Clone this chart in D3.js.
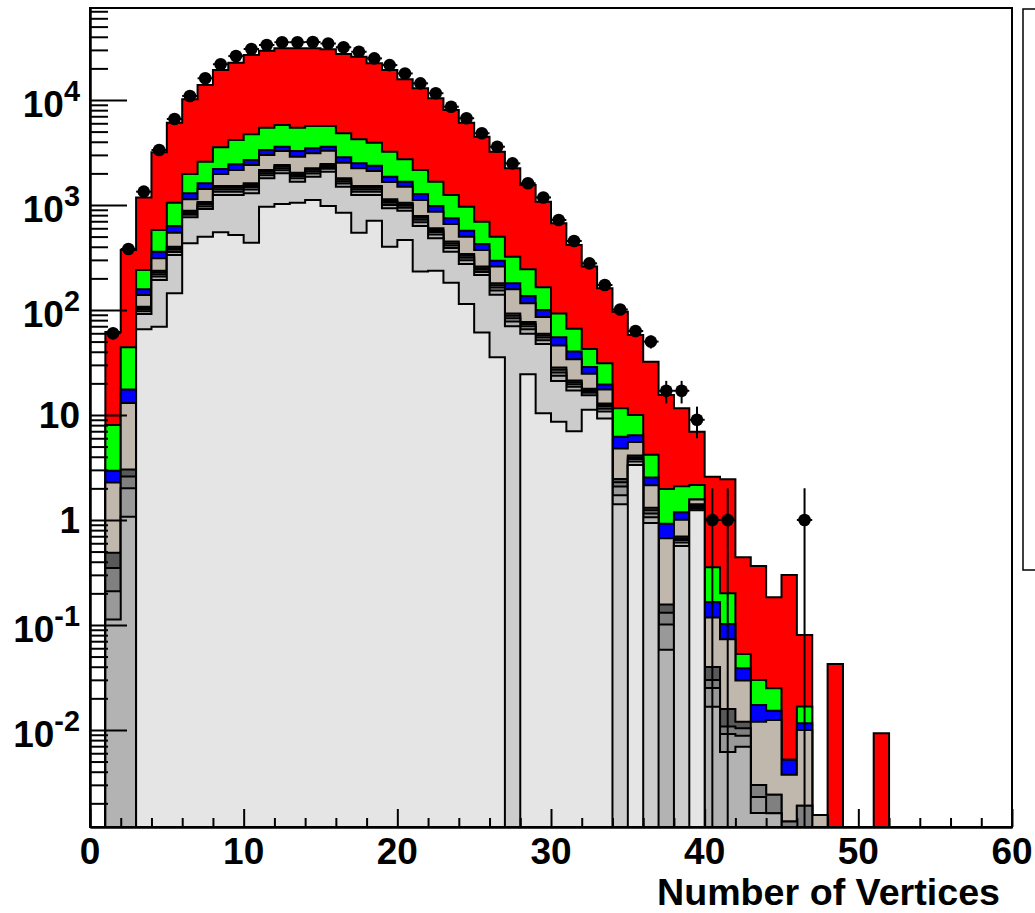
<!DOCTYPE html>
<html><head><meta charset="utf-8">
<script src="https://cdn.jsdelivr.net/npm/d3@7"></script>
<style>
body{margin:0;background:#fff}
svg{display:block}
text{font-family:"Liberation Sans",Arial,Helvetica,sans-serif;font-weight:bold;fill:#000}
</style></head>
<body><svg id="c" width="1035" height="913"></svg>
<script>
// ---- data: stacked components per bin (bin i = [i, i+1) vertices) ----
const lightGrey = [0,0,0,65.5,69.3,144,432,499,550,518,438,964,1022,1052,1116,977,845,545,708,401,464,232,237,182,114,61,35.5,0,24.4,10.4,8.63,7.01,11.2,9.24,0,3.34,0,0,0,1.24];
const midGrey   = [0,0,0,26.1,124,190,332,417,695,727,854,832,982,615,744,1099,649,700,537,529,419,399,245,177,160,154,104,69.8,34.9,37.1,12.4,10.1,4.2,1.53,1.41,0,0.934,0,0.564];
const grey16    = [0,0.113,1.07,5.6,15,23,42,54,95,95,111,125,140,128,132,133,106,95,95,71,59,54,41,31,23,15,14,8,6.2,4.1,2.6,1.5,0.84,0.72,0.305,0.27,0.13,0.058,0.046,0.059,0.0166,0.00617,0.0069,0.00162,0.00161,0.0007];
const grey15    = [0,0.096,0.93,4.0,11,17,30,38,68,68,80,90,100,91,94,95,75,68,68,51,42,38,30,22,17,11,10,5.7,4.4,3,1.8,1.05,0.6,0.52,0.37,0.19,0.09,0.043,0.033,0.042,0.0085,0.003,0.0019,0.00068];
const grey14    = [0,0.14,0.6,3.2,9,14,24,31,55,55,64,72,80,73,76,76,61,55,55,41,34,31,24,18,14,9,8.3,4.6,3.5,2.4,1.5,0.85,0.48,0.42,0.2,0.16,0.08,0.030,0.026,0.034,0.0048,0.0016,0.0016,0.00069,0.0008,0.00064,0.0019];
const grey12    = [0,0.139,0.42,3.1,8.6,13,23,30,54,54,63,71,80,73,75,75,60,54,54,40,34,31,23,18,13,9,8.3,4.5,3.5,2.3,1.4,0.8,0.48,0.41,0.17,0.15,0.07,0.026,0.026,0.033,0.0099,0.0051,0.0016];
const tan       = [0,1.78,9.97,31.5,73.9,144,250,351,456,637,794,840,864,852,868,834,733,720,591,523,442,331,263,211,158,114,79,64.8,38.7,26.6,17.5,12.7,6.9,4.62,2.33,1.42,0.84,0.512,0.312,0.162,0.078,0.0573,0.0175,0.009,0.01,0.0024,0.0081,0.00155];
const blue      = [0,0.68,4.48,18.4,48.4,86,159,190,230,288,279,345,321,384,362,300,318,258,260,204,173,157,114,88,70,52,36,22.2,20.3,13.9,9.3,6.3,4.0,2.04,1.41,0.89,0.40,0.251,0.177,0,0.048,0.029,0.0092,0.0053,0.0028,0.00145,0.0016];
const green     = [0,5.06,26.7,83,219,421,681,974,1343,1717,2030,2109,2192,2180,2186,2064,1972,1732,1552,1360,1056,881,690,498,395,268,204,142,108,64.6,37.5,26.1,13.8,11.6,5.41,3.6,1.64,1.05,0.91,0.587,0.188,0.098,0.0143,0.0126,0.0097,0,0.0051];
const red       = [0,53.6,328,935,2599,5029,8187,11316,15764,18491,22127,24062,25269,25602,25397,24747,22601,21603,18470,16090,13017,10766,8713,6790,5117,3774,2721,1915,1306,911,577,350,216.5,129.9,84.8,47.8,28.0,13.5,9.5,4.78,2.23,2.24,0.388,0.335,0.159,0.294,0.0636,0,0.0425,0,0,0.0093];
const dataCounts = [0,60,381,1340,3340,6590,10920,16100,21900,26200,30600,33400,35500,35500,35700,34500,31800,28800,24900,21500,17900,14400,11600,8630,6700,4820,3590,2490,1610,1180,720,454,278,173,101,63,50,17,17,9,1,1,0,0,0,0,1];

const xTickLabels = [0,10,20,30,40,50,60];
const yTickExps = [-2,-1,0,1,2,3,4];
const xTitle = "Number of Vertices";

// ---- layout ----
const X0=90, X1=1012, Y0=8, Y1=827, NB=60;
const x = d3.scaleLinear().domain([0,60]).range([X0,X1]);
const y = d3.scaleLog().domain([1.19e-3, 7.52e4]).range([Y1,Y0]);
const svg = d3.select('#c');
const YB = Y1 + 20;

svg.append('defs').append('clipPath').attr('id','clip')
  .append('rect').attr('x',X0).attr('y',Y0).attr('width',X1-X0).attr('height',Y1-Y0);

const layers = [
  {v:lightGrey, c:'#e5e5e5'},
  {v:midGrey,   c:'#cccccc'},
  {v:grey16,    c:'#b3b3b3'},
  {v:grey15,    c:'#999999'},
  {v:grey14,    c:'#808080'},
  {v:grey12,    c:'#595959'},
  {v:tan,       c:'#c1b8ad'},
  {v:blue,      c:'#0000ff'},
  {v:green,     c:'#00ff00'},
  {v:red,       c:'#ff0000'}
];
let run = d3.range(NB).map(()=>0);
const cums = layers.map(l => { run = run.map((s,i)=> s + (l.v[i]||0)); return run.slice(); });

const area = d3.area()
  .x(d=>x(d.b))
  .y0(YB)
  .y1(d=> d.v>0 ? y(d.v) : YB)
  .curve(d3.curveStepAfter);

const plot = svg.append('g').attr('clip-path','url(#clip)');
for (let k=layers.length-1;k>=0;k--){
  const pts = d3.range(NB).map(i=>({b:i, v:cums[k][i]}));
  pts.push({b:NB, v:cums[k][NB-1]});
  plot.append('path').attr('d', area(pts))
    .attr('fill', layers[k].c).attr('stroke','#000').attr('stroke-width',2)
    .attr('stroke-linejoin','miter');
}

// ---- data points ----
const pts = dataCounts.map((n,i)=>({i,n})).filter(d=>d.n>0);
const dg = plot.append('g');
pts.forEach(d=>{
  const e = Math.sqrt(d.n);
  const yc = y(d.n);
  const yHi = y(d.n+e);
  const yLo = (d.n-e)>0 ? y(d.n-e) : YB;
  dg.append('line').attr('x1',x(d.i+0.5)).attr('x2',x(d.i+0.5)).attr('y1',yHi).attr('y2',yLo)
    .attr('stroke','#000').attr('stroke-width',2);
  dg.append('line').attr('x1',x(d.i)).attr('x2',x(d.i+1)).attr('y1',yc).attr('y2',yc)
    .attr('stroke','#000').attr('stroke-width',2);
  dg.append('circle').attr('cx',x(d.i+0.5)).attr('cy',yc).attr('r',6.3).attr('fill','#000');
});

// ---- frame ----
svg.append('rect').attr('x',X0).attr('y',Y0).attr('width',X1-X0).attr('height',Y1-Y0)
  .attr('fill','none').attr('stroke','#000').attr('stroke-width',2);

// ---- axes ----
const yMajor = yTickExps.map(e=>Math.pow(10,e));
const yMinor = [];
for (let e=-3;e<=4;e++) for (let m=2;m<=9;m++){ const v=m*Math.pow(10,e); if (v>y.domain()[0] && v<y.domain()[1]) yMinor.push(v); }
const styleAxis = g => { g.selectAll('line').attr('stroke','#000').attr('stroke-width',2); g.select('.domain').attr('stroke','#000').attr('stroke-width',2); g.selectAll('text').remove(); };
svg.append('g').attr('transform',`translate(${X0},0)`)
  .call(d3.axisLeft(y).tickValues(yMajor).tickSize(-37).tickSizeOuter(0).tickFormat(''))
  .call(styleAxis);
svg.append('g').attr('transform',`translate(${X0},0)`)
  .call(d3.axisLeft(y).tickValues(yMinor).tickSize(-18).tickSizeOuter(0).tickFormat(''))
  .call(styleAxis);
const xMinor = d3.range(0,61,2).filter(v=>v%10!==0);
svg.append('g').attr('transform',`translate(0,${Y1})`)
  .call(d3.axisBottom(x).tickValues(xTickLabels).tickSize(-18).tickSizeOuter(0).tickFormat(''))
  .call(styleAxis);
svg.append('g').attr('transform',`translate(0,${Y1})`)
  .call(d3.axisBottom(x).tickValues(xMinor).tickSize(-9).tickSizeOuter(0).tickFormat(''))
  .call(styleAxis);

// ---- labels ----
const FS = 37;
xTickLabels.forEach(v=>{
  svg.append('text').attr('x',x(v)).attr('y',Y1+37).attr('text-anchor','middle')
    .attr('font-size',FS).text(v);
});
yTickExps.forEach(e=>{
  const yy = y(Math.pow(10,e));
  const t = svg.append('text').attr('text-anchor','end').attr('font-size',FS).attr('x',80);
  if (e===0 || e===1){
    t.attr('y',yy+13).text(e===0?'1':'10');
  } else {
    t.attr('y',yy+17);
    t.append('tspan').text('10');
    t.append('tspan').attr('font-size',FS*0.78).attr('dy',-16).text(String(e));
  }
});
svg.append('text').attr('x',1000).attr('y',905).attr('text-anchor','end')
  .attr('font-size',36).attr('textLength',343).attr('lengthAdjust','spacingAndGlyphs').text(xTitle);

// ---- legend box (cut by the page edge) ----
svg.append('rect').attr('x',1023).attr('y',9).attr('width',40).attr('height',561)
  .attr('fill','#fff').attr('stroke','#000').attr('stroke-width',1.5);
</script></body></html>
